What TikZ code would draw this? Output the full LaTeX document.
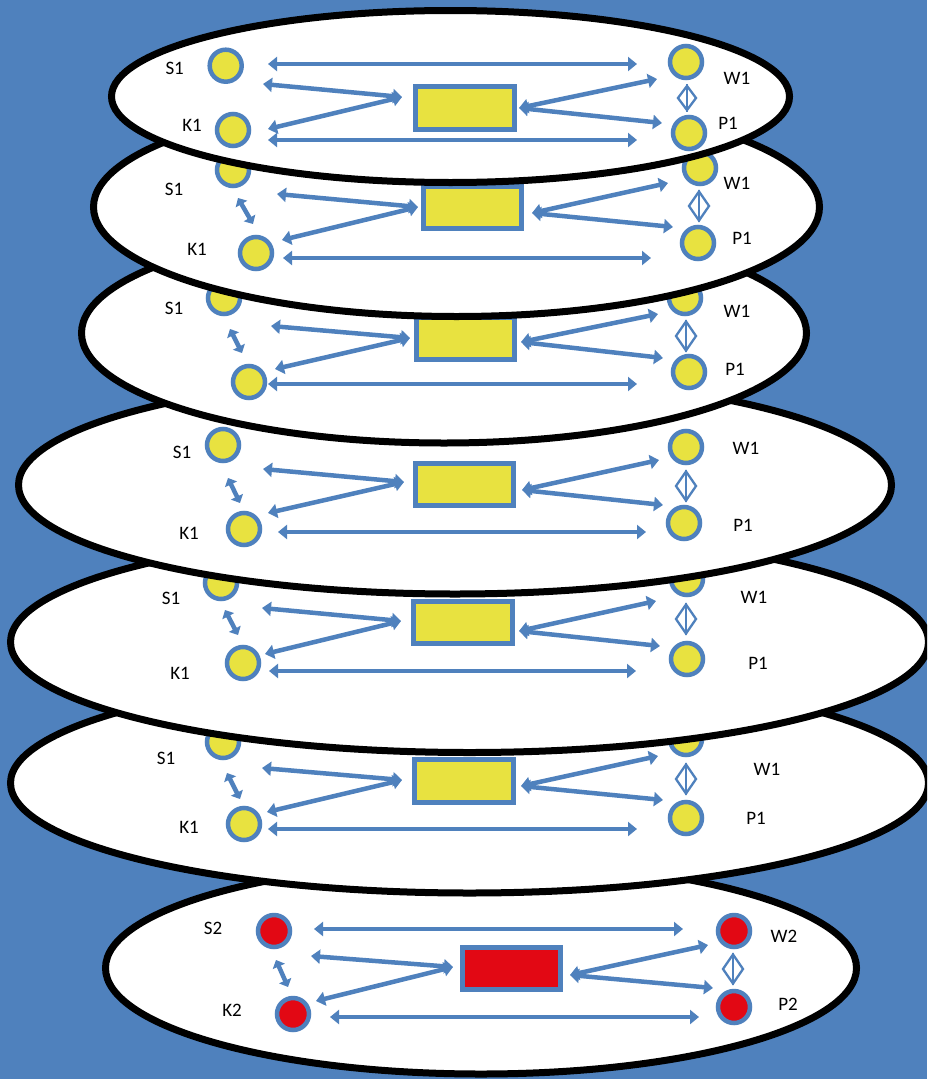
\documentclass[tikz,border=0pt]{standalone}
\usepackage{fontspec}
\setmainfont{Carlito}
\usetikzlibrary{arrows.meta,shapes.geometric}

\definecolor{bgblue}{HTML}{4F81BD}
\definecolor{linkblue}{HTML}{4F81BD}
\definecolor{dotyellow}{RGB}{232,226,64}
\definecolor{dotred}{RGB}{226,8,20}

% a pair of two-headed links fanning out from one apex
\newcommand\fanpair[4]{%
  \coordinate (#1-apex) at (#2);
  \coordinate (#1-a) at (#3);
  \coordinate (#1-b) at (#4);
  \draw[link] (#1-apex) -- (#1-a);
  \draw[link] (#1-apex) -- (#1-b);}
% a long horizontal two-headed link
\newcommand\longlink[3]{%
  \coordinate (#1-l) at (#2);
  \coordinate (#1-r) at (#3);
  \draw[link] (#1-l) -- (#1-r);}
% a short two-headed link between the two left dots
\newcommand\hoplink[3]{%
  \coordinate (#1-u) at (#2);
  \coordinate (#1-d) at (#3);
  \draw[hop] (#1-u) -- (#1-d);}

\tikzset{
  disc/.style={draw=black, line width=7pt, fill=white},
  dot/.style={circle, draw=linkblue, line width=4.5pt, minimum size=32pt, inner sep=0pt},
  ydot/.style={dot, fill=dotyellow},
  rdot/.style={dot, fill=dotred},
  slab/.style={rectangle, draw=linkblue, line width=5pt, minimum width=98.5pt, minimum height=42.5pt, inner sep=0pt},
  yslab/.style={slab, fill=dotyellow},
  rslab/.style={slab, fill=dotred},
  tag/.style={font=\fontsize{19}{19}\selectfont, text=black, inner sep=0pt},
  knot/.style={diamond, draw=linkblue, line width=2.3pt, minimum width=21pt, minimum height=30pt, inner sep=0pt},
  smallknot/.style={knot, minimum width=19pt, minimum height=25pt},
  knotbar/.style={draw=linkblue, line width=2.3pt},
  link/.style={draw=linkblue, line width=4.5pt,
    arrows={Triangle[length=9pt,width=14pt]-Triangle[length=9pt,width=14pt]}},
  hop/.style={draw=linkblue, line width=4.5pt,
    arrows={Triangle[length=7pt,width=13pt]-Triangle[length=7pt,width=13pt]}},
}

\begin{document}
\begin{tikzpicture}[x=1pt, y=-1pt]
\useasboundingbox (0,0) rectangle (927,1079);
\fill[bgblue] (0,0) rectangle (927,1079);
\clip (0,0) rectangle (927,1079);

% ---------- level 7 (bottom, red) ----------
\draw[disc] (481,968) ellipse [x radius=375.5pt, y radius=106pt];
\node[rdot] (S7) at (274,931) {};
\node[rdot] (K7) at (293,1014) {};
\node[rdot] (W7) at (734,931) {};
\node[rdot] (P7) at (734,1007) {};
\node[tag] (tS7) at (213,928) {S2};
\node[tag] (tK7) at (232,1010) {K2};
\node[tag] (tW7) at (784,936) {W2};
\node[tag] (tP7) at (788,1004) {P2};
\node[rslab] (R7) at (511.5,968.5) {};
\longlink{top7}{314,929}{683,929}
\longlink{bot7}{330,1017}{699,1017}
\hoplink{sk7}{276,960}{288,987}
\fanpair{lf7}{453,967}{311,956}{316,1001}
\fanpair{rf7}{570,975}{708,945}{713,988}
\node[knot] (D7) at (733,969) {};
\draw[knotbar] (D7.north) -- (D7.south);

% ---------- level 6 ----------
\draw[disc] (469.5,783) ellipse [x radius=459pt, y radius=110pt];
\node[ydot] (S6) at (223,742) {};
\node[ydot] (K6) at (244,824) {};
\node[ydot] (W6) at (686,739) {};
\node[ydot] (P6) at (686,818) {};
\node[tag] (tS6) at (166,758) {S1};
\node[tag] (tK6) at (189,827) {K1};
\node[tag] (tW6) at (767,769) {W1};
\node[tag] (tP6) at (756,818) {P1};
\node[yslab] (R6) at (464,781) {};
\longlink{bot6}{268,829}{637,829}
\hoplink{sk6}{227,773}{240,799}
\fanpair{lf6}{402,780}{262,768}{267,812}
\fanpair{rf6}{521,786}{658,756}{663,800}
\node[knot] (D6) at (686,779) {};
\draw[knotbar] (D6.north) -- (D6.south);

% ---------- level 5 ----------
\draw[disc] (469.5,642) ellipse [x radius=459pt, y radius=110.5pt];
\node[ydot] (S5) at (221,583) {};
\node[ydot] (K5) at (243,663) {};
\node[ydot] (W5) at (687,579) {};
\node[ydot] (P5) at (687,659) {};
\node[tag] (tS5) at (171,598) {S1};
\node[tag] (tK5) at (180,673) {K1};
\node[tag] (tW5) at (754,597) {W1};
\node[tag] (tP5) at (758,663) {P1};
\node[yslab] (R5) at (463,622.5) {};
\longlink{bot5}{269,671}{636,671}
\hoplink{sk5}{225,610}{238,635}
\fanpair{lf5}{401,621}{262,608}{265,654}
\fanpair{rf5}{519,631}{656,601}{660,646}
\node[knot] (D5) at (686,619) {};
\draw[knotbar] (D5.north) -- (D5.south);

% ---------- level 4 ----------
\draw[disc] (455,485) ellipse [x radius=436.5pt, y radius=109pt];
\node[ydot] (S4) at (223,445) {};
\node[ydot] (K4) at (244,529) {};
\node[ydot] (W4) at (686,447) {};
\node[ydot] (P4) at (684,523) {};
\node[tag] (tS4) at (182,452) {S1};
\node[tag] (tK4) at (189,533) {K1};
\node[tag] (tW4) at (746,448) {W1};
\node[tag] (tP4) at (743,525) {P1};
\node[yslab] (R4) at (464.5,484.5) {};
\longlink{bot4}{278,532}{646,532}
\hoplink{sk4}{228,478}{240,503}
\fanpair{lf4}{404,482}{263,469}{268,513}
\fanpair{rf4}{522,490}{659,460}{663,505}
\node[knot] (D4) at (686,486) {};
\draw[knotbar] (D4.north) -- (D4.south);

% ---------- level 3 ----------
\draw[disc] (444,333) ellipse [x radius=362.5pt, y radius=110pt];
\node[ydot] (S3) at (224,298) {};
\node[ydot] (K3) at (249,382) {};
\node[ydot] (W3) at (685,298) {};
\node[ydot] (P3) at (689,372) {};
\node[tag] (tS3) at (174,308) {S1};
\node[tag] (tW3) at (737,311) {W1};
\node[tag] (tP3) at (735,369) {P1};
\node[yslab] (R3) at (465.5,338.5) {};
\longlink{bot3}{268,384}{637,384}
\hoplink{sk3}{230,329}{242,353}
\fanpair{lf3}{410,338}{271,326}{275,369}
\fanpair{rf3}{521,342}{658,314}{663,358}
\node[knot] (D3) at (686,336) {};
\draw[knotbar] (D3.north) -- (D3.south);

% ---------- level 2 ----------
\draw[disc] (456.5,207) ellipse [x radius=363pt, y radius=109.5pt];
\node[ydot] (S2) at (233,170) {};
\node[ydot] (K2) at (256,253) {};
\node[ydot] (W2) at (700,168) {};
\node[ydot] (P2) at (698,243) {};
\node[tag] (tS2) at (174,189) {S1};
\node[tag] (tK2) at (197,249) {K1};
\node[tag] (tW2) at (737,183) {W1};
\node[tag] (tP2) at (742,238) {P1};
\node[yslab] (R2) at (472.5,207.5) {};
\longlink{bot2}{283,258}{651,258}
\hoplink{sk2}{238,198}{253,224}
\fanpair{lf2}{418,207}{277,194}{282,240}
\fanpair{rf2}{532,213}{668,183}{673,227}
\node[knot] (D2) at (699,206) {};
\draw[knotbar] (D2.north) -- (D2.south);

% ---------- level 1 (top) ----------
\draw[disc] (450.5,96.5) ellipse [x radius=339pt, y radius=86pt];
\node[ydot] (S1) at (225.7,65.7) {};
\node[ydot] (K1) at (233,130) {};
\node[ydot] (W1) at (686,62) {};
\node[ydot] (P1) at (689,133) {};
\node[tag] (tS1) at (174.7,68.3) {S1};
\node[tag] (tK1) at (192,125) {K1};
\node[tag] (tW1) at (737,78) {W1};
\node[tag] (tP1) at (728,123) {P1};
\node[yslab] (R1) at (465,108) {};
\longlink{top1}{268,64}{637,64}
\longlink{bot1}{268,140}{637,140}
\fanpair{lf1}{402,97}{263,84}{268,129}
\fanpair{rf1}{519,108}{657,79}{662,123}
\node[smallknot] (D1) at (687,98) {};
\draw[knotbar] (D1.north) -- (D1.south);
\end{tikzpicture}
\end{document}
